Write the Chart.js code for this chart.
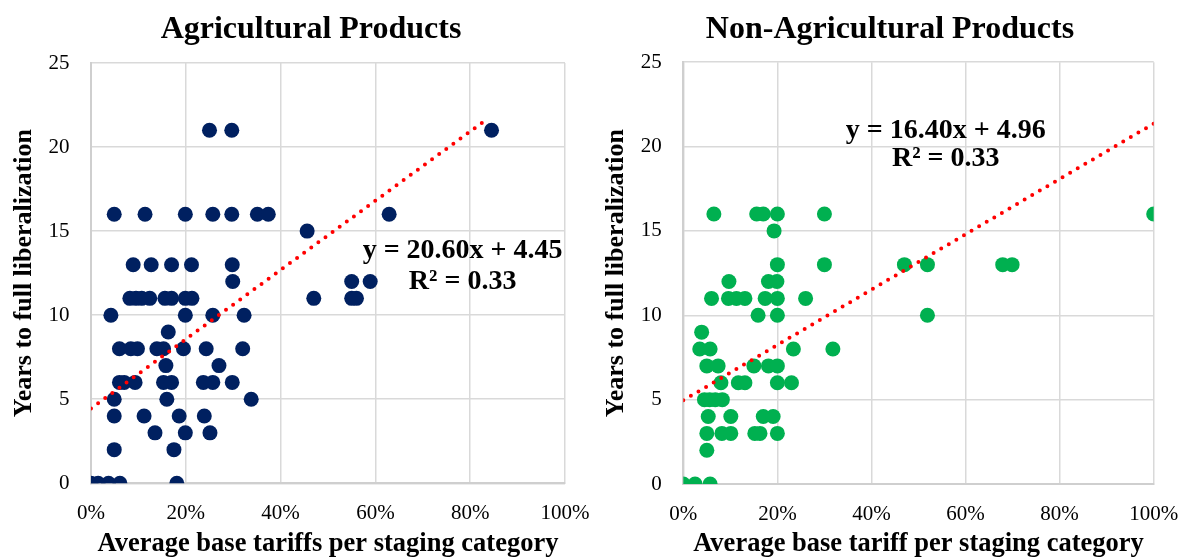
<!DOCTYPE html>
<html>
<head>
<meta charset="utf-8">
<script src="https://cdn.jsdelivr.net/npm/chart.js@4.4.1/dist/chart.umd.min.js"></script>
<style>
  html, body { margin: 0; padding: 0; background: #fff; }
  #wrap { position: relative; width: 1180px; height: 557px; overflow: hidden; }
  .box { position: absolute; top: 0; width: 590px; height: 557px; }
</style>
</head>
<body>
<div id="wrap">
  <div class="box" style="left:0"><canvas id="c1" width="590" height="557"></canvas></div>
  <div class="box" style="left:590px"><canvas id="c2" width="590" height="557"></canvas></div>
</div>
<script>
// ---------- Data (x = average base tariff in %, y = years to full liberalization) ----------
const agriX = [25.0, 29.7,
  4.9, 11.4, 19.9, 25.7, 29.7, 35.1, 37.4, 62.9,
  45.6,
  8.9, 12.7, 17.0, 21.2, 29.8,
  29.9, 55.0, 58.9,
  8.2, 9.5, 10.7, 12.4, 15.6, 17.0, 19.9, 21.3, 47.0, 55.0, 56.0,
  4.2, 19.9, 25.7, 32.3,
  16.3,
  6.0, 8.4, 9.8, 13.9, 15.3, 19.5, 24.3, 32.0,
  15.8, 27.0,
  6.0, 7.0, 9.3, 15.3, 17.0, 23.7, 25.7, 29.8,
  4.9, 16.0, 33.8,
  4.9, 11.2, 18.6, 23.9,
  13.5, 19.9, 25.1,
  4.9, 17.5,
  0.0, 1.5, 3.7, 6.1, 18.1, 84.5];
const agriY = [21, 21,
  16, 16, 16, 16, 16, 16, 16, 16,
  15,
  13, 13, 13, 13, 13,
  12, 12, 12,
  11, 11, 11, 11, 11, 11, 11, 11, 11, 11, 11,
  10, 10, 10, 10,
  9,
  8, 8, 8, 8, 8, 8, 8, 8,
  7, 7,
  6, 6, 6, 6, 6, 6, 6, 6,
  5, 5, 5,
  4, 4, 4, 4,
  3, 3, 3,
  2, 2,
  0, 0, 0, 0, 0, 21];

const nonAgriX = [6.5, 15.6, 17.0, 20.0, 30.0, 100.0,
  19.3,
  20.0, 30.0, 47.0, 51.9, 67.9, 69.9,
  9.7, 18.1, 19.9,
  6.0, 9.6, 11.3, 13.1, 17.4, 20.0, 26.0,
  15.9, 20.0, 51.9,
  3.9,
  3.5, 5.7, 23.4, 31.8,
  5.0, 7.4, 15.0, 18.1, 20.0,
  8.0, 11.7, 13.1, 20.0, 23.0,
  4.5, 5.6, 6.8, 8.3,
  5.3, 10.1, 17.0, 19.1,
  5.0, 8.2, 10.1, 15.2, 16.3, 20.0,
  5.0,
  0.0, 2.5, 5.7];
const nonAgriY = [16, 16, 16, 16, 16, 16,
  15,
  13, 13, 13, 13, 13, 13,
  12, 12, 12,
  11, 11, 11, 11, 11, 11, 11,
  10, 10, 10,
  9,
  8, 8, 8, 8,
  7, 7, 7, 7, 7,
  6, 6, 6, 6, 6,
  5, 5, 5, 5,
  4, 4, 4, 4,
  3, 3, 3, 3, 3, 3,
  2,
  0, 0, 0];

// Linear trend lines (from the equations shown on the chart)
const agriTrend = { slope: 20.60, intercept: 4.45, xFrom: 0, xTo: 83.8 };
const nonAgriTrend = { slope: 16.40, intercept: 4.96, xFrom: 0, xTo: 100 };

const chartTitles = ["Agricultural Products", "Non-Agricultural Products"];
const xTitles = ["Average base tariffs per staging category", "Average base tariff per staging category"];
const yTitle = "Years to full liberalization";
const xTicks = [0, 20, 40, 60, 80, 100];
const yTicks = [0, 5, 10, 15, 20, 25];

// Equation labels: [text line 1, text line 2], anchored at data coordinates
const agriEq = { lines: ["y = 20.60x + 4.45", "R\u00B2 = 0.33"], x: [78.4, 78.4], y: [13.82, 12.01] };
const nonAgriEq = { lines: ["y = 16.40x + 4.96", "R\u00B2 = 0.33"], x: [55.8, 55.8], y: [20.95, 19.27] };

// ---------- Helpers ----------
const SERIF = "'Liberation Serif', 'Times New Roman', serif";
function toPoints(xs, ys) { return xs.map((x, i) => ({ x: x, y: ys[i] })); }
function trendPoints(t) {
  return [t.xFrom, t.xTo].map(x => ({ x: x, y: t.slope * x / 100 + t.intercept }));
}

const textPlugin = {
  id: 'extraText',
  afterDatasetsDraw(chart, args, opts) {
    const { ctx, scales } = chart;
    ctx.save();
    ctx.fillStyle = '#000';
    ctx.textAlign = 'center';
    ctx.textBaseline = 'middle';
    // chart title
    ctx.font = "bold 32px " + SERIF;
    ctx.fillText(opts.title, opts.titleX, opts.titleY);
    // trend equation
    const eq = opts.eq;
    ctx.font = "bold 28px " + SERIF;
    eq.lines.forEach((t, i) => {
      ctx.fillText(t, scales.x.getPixelForValue(eq.x[i]), scales.y.getPixelForValue(eq.y[i]));
    });
    ctx.restore();
  }
};

function makeChart(id, cfg) {
  const gridColor = '#d9d9d9';
  return new Chart(document.getElementById(id), {
    type: 'scatter',
    data: {
      datasets: [
        {
          type: 'line',
          data: trendPoints(cfg.trend),
          borderColor: '#ff0000',
          borderWidth: 4,
          borderDash: [0, 8.8],
          borderCapStyle: 'round',
          pointRadius: 0,
          fill: false,
          order: 0
        },
        {
          data: toPoints(cfg.xs, cfg.ys),
          backgroundColor: cfg.color,
          borderWidth: 0,
          pointRadius: 7.5,
          pointHoverRadius: 7.5,
          order: 1
        }
      ]
    },
    options: {
      responsive: false,
      animation: false,
      events: [],
      layout: { padding: { left: 0, right: cfg.padRight, top: cfg.padTop, bottom: 0 } },
      plugins: {
        legend: { display: false },
        tooltip: { enabled: false },
        title: { display: false },
        extraText: { title: cfg.title, titleX: cfg.titleX, titleY: 30, eq: cfg.eq }
      },
      scales: {
        x: {
          type: 'linear',
          min: 0, max: 100,
          afterBuildTicks: s => { s.ticks = xTicks.map(v => ({ value: v })); },
          afterFit: s => { s.height = cfg.xAxisHeight; s.paddingLeft = 0; s.paddingRight = 0; },
          ticks: {
            color: '#000',
            padding: 18,
            font: { family: SERIF, size: 21, lineHeight: 1.2 },
            callback: v => v + '%'
          },
          grid: { color: gridColor, lineWidth: 1.5, drawTicks: false },
          border: { display: true, color: '#cfcfcf', width: 2 },
          title: {
            display: true,
            text: cfg.xTitle,
            color: '#000',
            font: { family: SERIF, size: 26.5, weight: 'bold', lineHeight: 1 },
            padding: { top: 0, bottom: 0 }
          }
        },
        y: {
          type: 'linear',
          min: 0, max: 25,
          afterBuildTicks: s => { s.ticks = yTicks.map(v => ({ value: v })); },
          afterFit: s => { s.width = cfg.yAxisWidth; s.paddingTop = 0; s.paddingBottom = 0; },
          ticks: {
            color: '#000',
            padding: 21.5,
            font: { family: SERIF, size: 21, lineHeight: 1.2 }
          },
          grid: { color: gridColor, lineWidth: 1.5, drawTicks: false },
          border: { display: true, color: '#cfcfcf', width: 2 },
          title: {
            display: true,
            text: yTitle,
            color: '#000',
            font: { family: SERIF, size: 26, weight: 'bold', lineHeight: 1 },
            padding: { top: cfg.yTitlePad, bottom: 0 }
          }
        }
      }
    },
    plugins: [textPlugin]
  });
}

makeChart('c1', {
  xs: agriX, ys: agriY, color: '#002060', trend: agriTrend, eq: agriEq,
  title: chartTitles[0], xTitle: xTitles[0], titleX: 311,
  padRight: 25, padTop: 63, yAxisWidth: 91, xAxisHeight: 73.7, yTitlePad: 11
});
makeChart('c2', {
  xs: nonAgriX, ys: nonAgriY, color: '#00b050', trend: nonAgriTrend, eq: nonAgriEq,
  title: chartTitles[1], xTitle: xTitles[1], titleX: 300,
  padRight: 26.3, padTop: 62.2, yAxisWidth: 93.3, xAxisHeight: 73, yTitlePad: 13.2
});
</script>
</body>
</html>
